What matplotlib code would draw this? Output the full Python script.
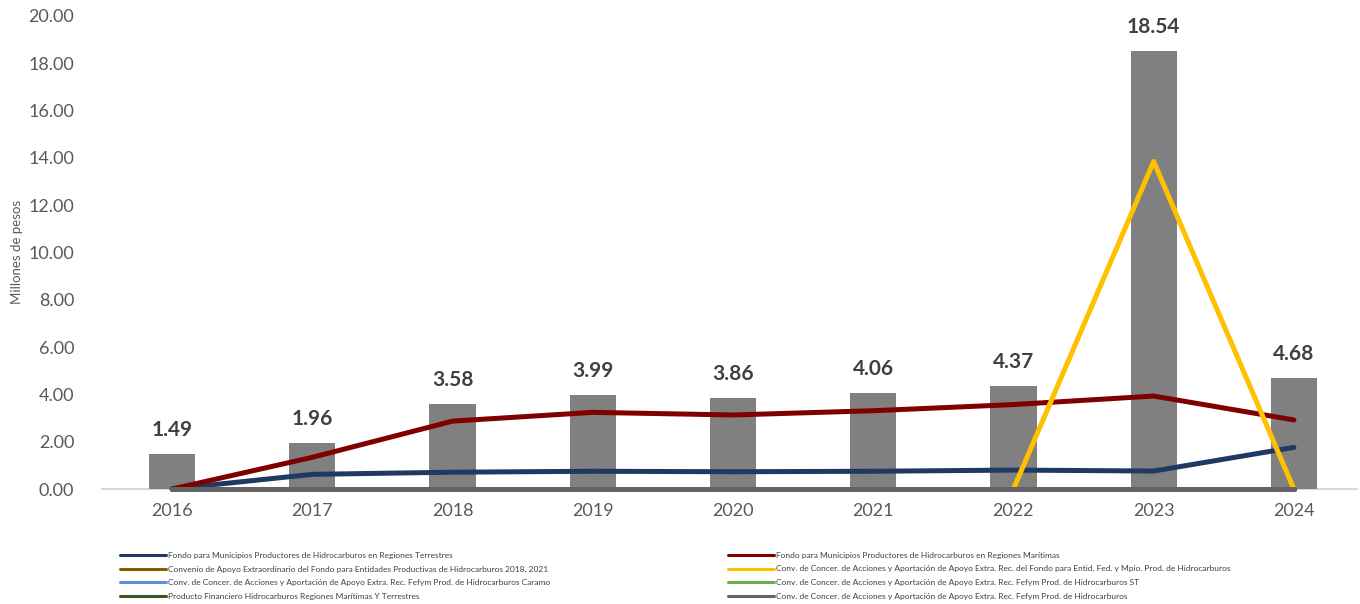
import matplotlib.pyplot as plt

plt.rcParams['font.family'] = ['Lato', 'DejaVu Sans']

years = ['2016', '2017', '2018', '2019', '2020', '2021', '2022', '2023', '2024']
totals = [1.49, 1.96, 3.58, 3.99, 3.86, 4.06, 4.37, 18.54, 4.68]

terrestres = [0.00, 0.62, 0.71, 0.75, 0.73, 0.75, 0.80, 0.76, 1.76]
maritimas = [0.00, 1.34, 2.87, 3.24, 3.13, 3.31, 3.57, 3.93, 2.92]
convenio_2018 = [0, 0, 0, 0, 0, 0, 0, 0, 0]
conv_fondo = [None, None, None, None, None, None, 0.00, 13.85, 0.00]
conv_caramo = [0, 0, 0, 0, 0, 0, 0, 0, 0]
conv_st = [0, 0, 0, 0, 0, 0, 0, 0, 0]
producto_fin = [0, 0, 0, 0, 0, 0, 0, 0, 0]
conv_fefym = [0, 0, 0, 0, 0, 0, 0, 0, 0]

series = [
    ("Fondo para Municipios Productores de Hidrocarburos en Regiones Terrestres", terrestres, '#203864'),
    ("Fondo para Municipios Productores de Hidrocarburos en Regiones Marítimas", maritimas, '#7f0000'),
    ("Convenio de Apoyo Extraordinario del Fondo para Entidades Productivas de Hidrocarburos 2018, 2021", convenio_2018, '#7f6000'),
    ("Conv. de Concer. de Acciones y Aportación de Apoyo Extra. Rec. del Fondo para Entid. Fed. y Mpio. Prod. de Hidrocarburos", conv_fondo, '#ffc000'),
    ("Conv. de Concer. de Acciones y Aportación de Apoyo Extra. Rec. Fefym Prod. de Hidrocarburos Caramo", conv_caramo, '#5b8fdc'),
    ("Conv. de Concer. de Acciones y Aportación de Apoyo Extra. Rec. Fefym Prod. de Hidrocarburos ST", conv_st, '#70ad47'),
    ("Producto Financiero Hidrocarburos Regiones Marítimas Y Terrestres", producto_fin, '#375623'),
    ("Conv. de Concer. de Acciones y Aportación de Apoyo Extra. Rec. Fefym Prod. de Hidrocarburos", conv_fefym, '#636363'),
]

fig = plt.figure(figsize=(13.6, 6.04), dpi=100)
ax = fig.add_axes([102 / 1360, 1 - 489 / 604, (1357 - 102) / 1360, (489 - 16) / 604])

x = list(range(len(years)))
bars = ax.bar(x, totals, width=0.33, color='#808080', zorder=1)
for xi, v in zip(x, totals):
    ax.annotate(f'{v:.2f}', (xi, v), xytext=(0, 10), textcoords='offset points',
                ha='center', va='bottom', fontsize=15, fontweight='bold', color='#404040')

handles = []
for label, vals, color in series:
    xs = [xi for xi, v in zip(x, vals) if v is not None]
    ys = [v for v in vals if v is not None]
    ln, = ax.plot(xs, ys, color=color, lw=3.6, solid_capstyle='round',
                  solid_joinstyle='round', label=label, zorder=3, clip_on=False)
    handles.append(ln)

ax.set_xlim(-0.5, 8.45)
ax.set_ylim(0, 20)
ax.set_yticks([0, 2, 4, 6, 8, 10, 12, 14, 16, 18, 20])
ax.set_yticklabels([f'{t:.2f}' for t in ax.get_yticks()])
ax.set_xticks(x)
ax.set_xticklabels(years)
ax.tick_params(axis='both', length=0, labelsize=13, labelcolor='#595959')
ax.tick_params(axis='y', pad=20)
ax.tick_params(axis='x', pad=10)
for side in ['top', 'right', 'left']:
    ax.spines[side].set_visible(False)
ax.spines['bottom'].set_color('#d9d9d9')
ax.spines['bottom'].set_linewidth(1.5)
ax.spines['bottom'].set_zorder(0)

fig.text(17 / 1360, 1 - 252 / 604, 'Millones de pesos', rotation=90, ha='center', va='center',
         fontsize=9.5, color='#595959')

leg_kw = dict(loc='upper left', frameon=False, fontsize=6, handlelength=5.5,
              handletextpad=0.3, labelspacing=0.78, borderpad=0, borderaxespad=0)
leg1 = fig.legend(handles[0::2], [s[0] for s in series[0::2]],
                  bbox_to_anchor=(120 / 1360, 1 - 552 / 604), **leg_kw)
leg2 = fig.legend(handles[1::2], [s[0] for s in series[1::2]],
                  bbox_to_anchor=(728 / 1360, 1 - 552 / 604), **leg_kw)
for leg in (leg1, leg2):
    for t in leg.get_texts():
        t.set_color('#404040')
    for h in leg.get_lines():
        h.set_linewidth(2.2)

fig.savefig('out.png', dpi=100)
